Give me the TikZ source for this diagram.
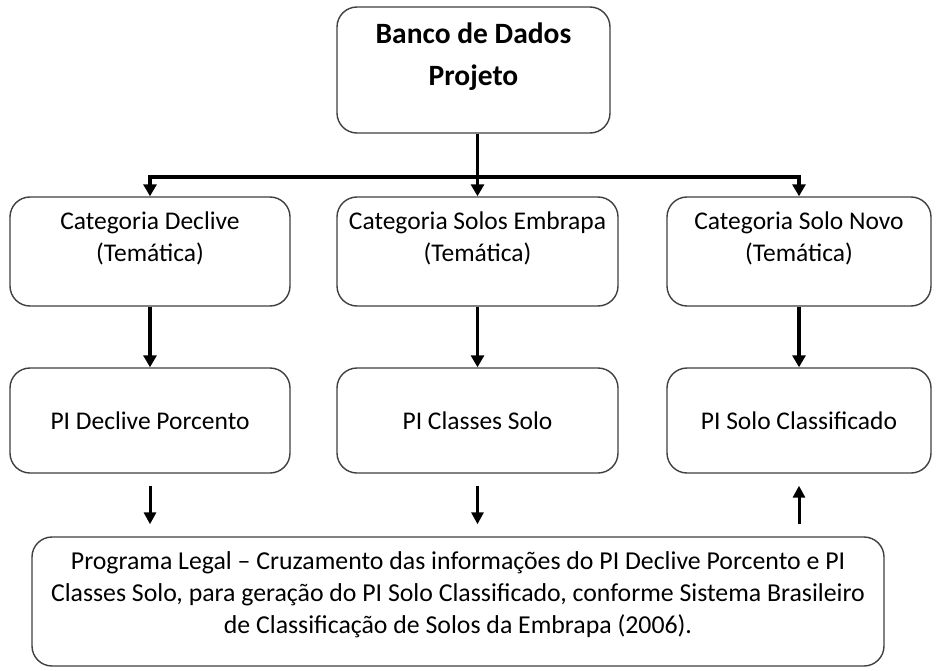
\documentclass[tikz,border=0pt]{standalone}
\usepackage{fontspec}
\setmainfont{Carlito}
\usetikzlibrary{arrows.meta,calc}
\definecolor{boxgray}{RGB}{64,64,64}
\begin{document}
\begin{tikzpicture}[x=1pt,y=-1pt,
  box/.style={draw=boxgray, line width=1.4pt, rounded corners=20pt, inner sep=0pt, fill=white},
  conn/.style={line width=3.6pt, -{Triangle[length=12pt,width=13pt]}},
  thinconn/.style={line width=3pt, -{Triangle[length=12pt,width=12pt]}},
  cattext/.style={font=\fontsize{25.5}{32}\selectfont},
]
\useasboundingbox (0,0) rectangle (936,671);
\fill[white] (0,0) rectangle (936,671);

\node[box, minimum width=273pt, minimum height=126pt] (top) at (473.5,70)
  {\parbox[c][126pt][t]{273pt}{\centering\bfseries\fontsize{29.5}{42}\selectfont\rule{0pt}{37pt}Banco de Dados\\Projeto}};

\node[box] (cat1) at (150,251.5)
  {\parbox[c][109pt][t]{280pt}{\centering\fontsize{25.5}{32}\selectfont\rule{0pt}{32pt}Categoria Declive\\(Temática)}};
\node[box] (cat2) at (477.5,251.5)
  {\parbox[c][109pt][t]{281pt}{\centering\fontsize{25.5}{32}\selectfont\rule{0pt}{32pt}Categoria Solos Embrapa\\(Temática)}};
\node[box] (cat3) at (799,251.5)
  {\parbox[c][109pt][t]{264pt}{\centering\fontsize{25.5}{32}\selectfont\rule{0pt}{32pt}Categoria Solo Novo\\(Temática)}};

\node[box, minimum width=280pt, minimum height=105pt, cattext] (pi1) at (150,420.5) {PI Declive Porcento};
\node[box, minimum width=281pt, minimum height=105pt, cattext] (pi2) at (477.5,420.5) {PI Classes Solo};
\node[box, minimum width=264pt, minimum height=105pt, cattext] (pi3) at (799,420.5) {PI Solo Classificado};

\node[box] (prog) at (458,601.5)
  {\parbox[c][129pt][t]{852pt}{\centering\fontsize{25.8}{32}\selectfont\rule{0pt}{32pt}Programa Legal – Cruzamento das informações do PI Declive Porcento e PI\\Classes Solo, para geração do PI Solo Classificado, conforme Sistema Brasileiro\\de Classificação de Solos da Embrapa (2006).}};

% top to categories
\coordinate (barM) at ($(cat2.north)+(0,-19)$);
\draw[conn] (top.south -| cat2.north) -- (cat2.north);
\draw[conn] (barM) -| (cat1.north);
\draw[conn] (barM) -| (cat3.north);

% categories to PI
\draw[conn] (cat1.south) -- (pi1.north);
\draw[conn] (cat2.south) -- (pi2.north);
\draw[conn] (cat3.south) -- (pi3.north);

% PI to program
\coordinate (a1) at ($(pi1.south)+(0,12)$);
\coordinate (b1) at ($(pi1.south |- prog.north)+(0,-12)$);
\coordinate (a2) at ($(pi2.south)+(0,12)$);
\coordinate (b2) at ($(pi2.south |- prog.north)+(0,-12)$);
\coordinate (a3) at ($(pi3.south)+(0,12)$);
\coordinate (b3) at ($(pi3.south |- prog.north)+(0,-12)$);
\draw[thinconn] (a1) -- (b1);
\draw[thinconn] (a2) -- (b2);
\draw[thinconn] (b3) -- (a3);
\end{tikzpicture}
\end{document}
